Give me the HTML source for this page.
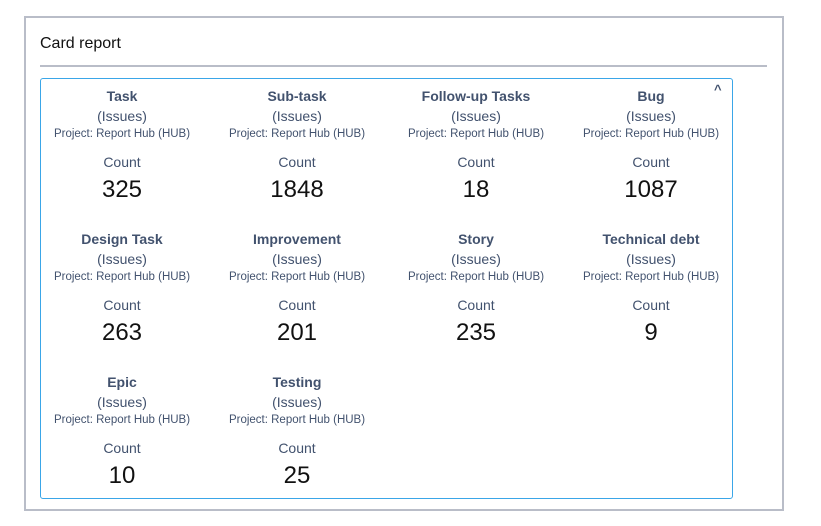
<!DOCTYPE html>
<html><head><style>
body{margin:0;width:821px;height:526px;background:#fff;font-family:"Liberation Sans",sans-serif;position:relative;overflow:hidden}
.outer{position:absolute;left:24px;top:16px;width:756px;height:491px;border:2px solid #b9bdc8}
.title{position:absolute;left:40px;top:35px;font-size:16px;color:#111}
.hr{position:absolute;left:40px;top:65px;width:727px;height:2px;background:#b9bdc8}
.box{position:absolute;left:40px;top:78px;width:691px;height:419px;border:1px solid #3aa6e8;border-radius:3px}
.c{position:absolute;width:180px;text-align:center;color:#42526e}
.c .t{position:absolute;top:0;width:100%;font-size:14px;font-weight:bold;line-height:16px}
.c .i{position:absolute;top:20px;width:100%;font-size:14px;line-height:16px}
.c .p{position:absolute;top:40px;width:100%;font-size:11.5px;line-height:13px}
.c .k{position:absolute;top:66px;width:100%;font-size:14px;line-height:16px}
.c .n{position:absolute;top:88px;width:100%;font-size:24px;line-height:28px;color:#111}
.car{position:absolute;left:714px;top:82px;font-size:13px;font-weight:bold;color:#42526e}
</style></head><body>
<div class="outer"></div>
<div class="title">Card report</div>
<div class="hr"></div>
<div class="box"></div>
<div class="car">&#94;</div>
<div class="c" style="left:32px;top:88px"><div class="t">Task</div><div class="i">(Issues)</div><div class="p">Project: Report Hub (HUB)</div><div class="k">Count</div><div class="n">325</div></div>
<div class="c" style="left:207px;top:88px"><div class="t">Sub-task</div><div class="i">(Issues)</div><div class="p">Project: Report Hub (HUB)</div><div class="k">Count</div><div class="n">1848</div></div>
<div class="c" style="left:386px;top:88px"><div class="t">Follow-up Tasks</div><div class="i">(Issues)</div><div class="p">Project: Report Hub (HUB)</div><div class="k">Count</div><div class="n">18</div></div>
<div class="c" style="left:561px;top:88px"><div class="t">Bug</div><div class="i">(Issues)</div><div class="p">Project: Report Hub (HUB)</div><div class="k">Count</div><div class="n">1087</div></div>
<div class="c" style="left:32px;top:231px"><div class="t">Design Task</div><div class="i">(Issues)</div><div class="p">Project: Report Hub (HUB)</div><div class="k">Count</div><div class="n">263</div></div>
<div class="c" style="left:207px;top:231px"><div class="t">Improvement</div><div class="i">(Issues)</div><div class="p">Project: Report Hub (HUB)</div><div class="k">Count</div><div class="n">201</div></div>
<div class="c" style="left:386px;top:231px"><div class="t">Story</div><div class="i">(Issues)</div><div class="p">Project: Report Hub (HUB)</div><div class="k">Count</div><div class="n">235</div></div>
<div class="c" style="left:561px;top:231px"><div class="t">Technical debt</div><div class="i">(Issues)</div><div class="p">Project: Report Hub (HUB)</div><div class="k">Count</div><div class="n">9</div></div>
<div class="c" style="left:32px;top:374px"><div class="t">Epic</div><div class="i">(Issues)</div><div class="p">Project: Report Hub (HUB)</div><div class="k">Count</div><div class="n">10</div></div>
<div class="c" style="left:207px;top:374px"><div class="t">Testing</div><div class="i">(Issues)</div><div class="p">Project: Report Hub (HUB)</div><div class="k">Count</div><div class="n">25</div></div>
</body></html>
